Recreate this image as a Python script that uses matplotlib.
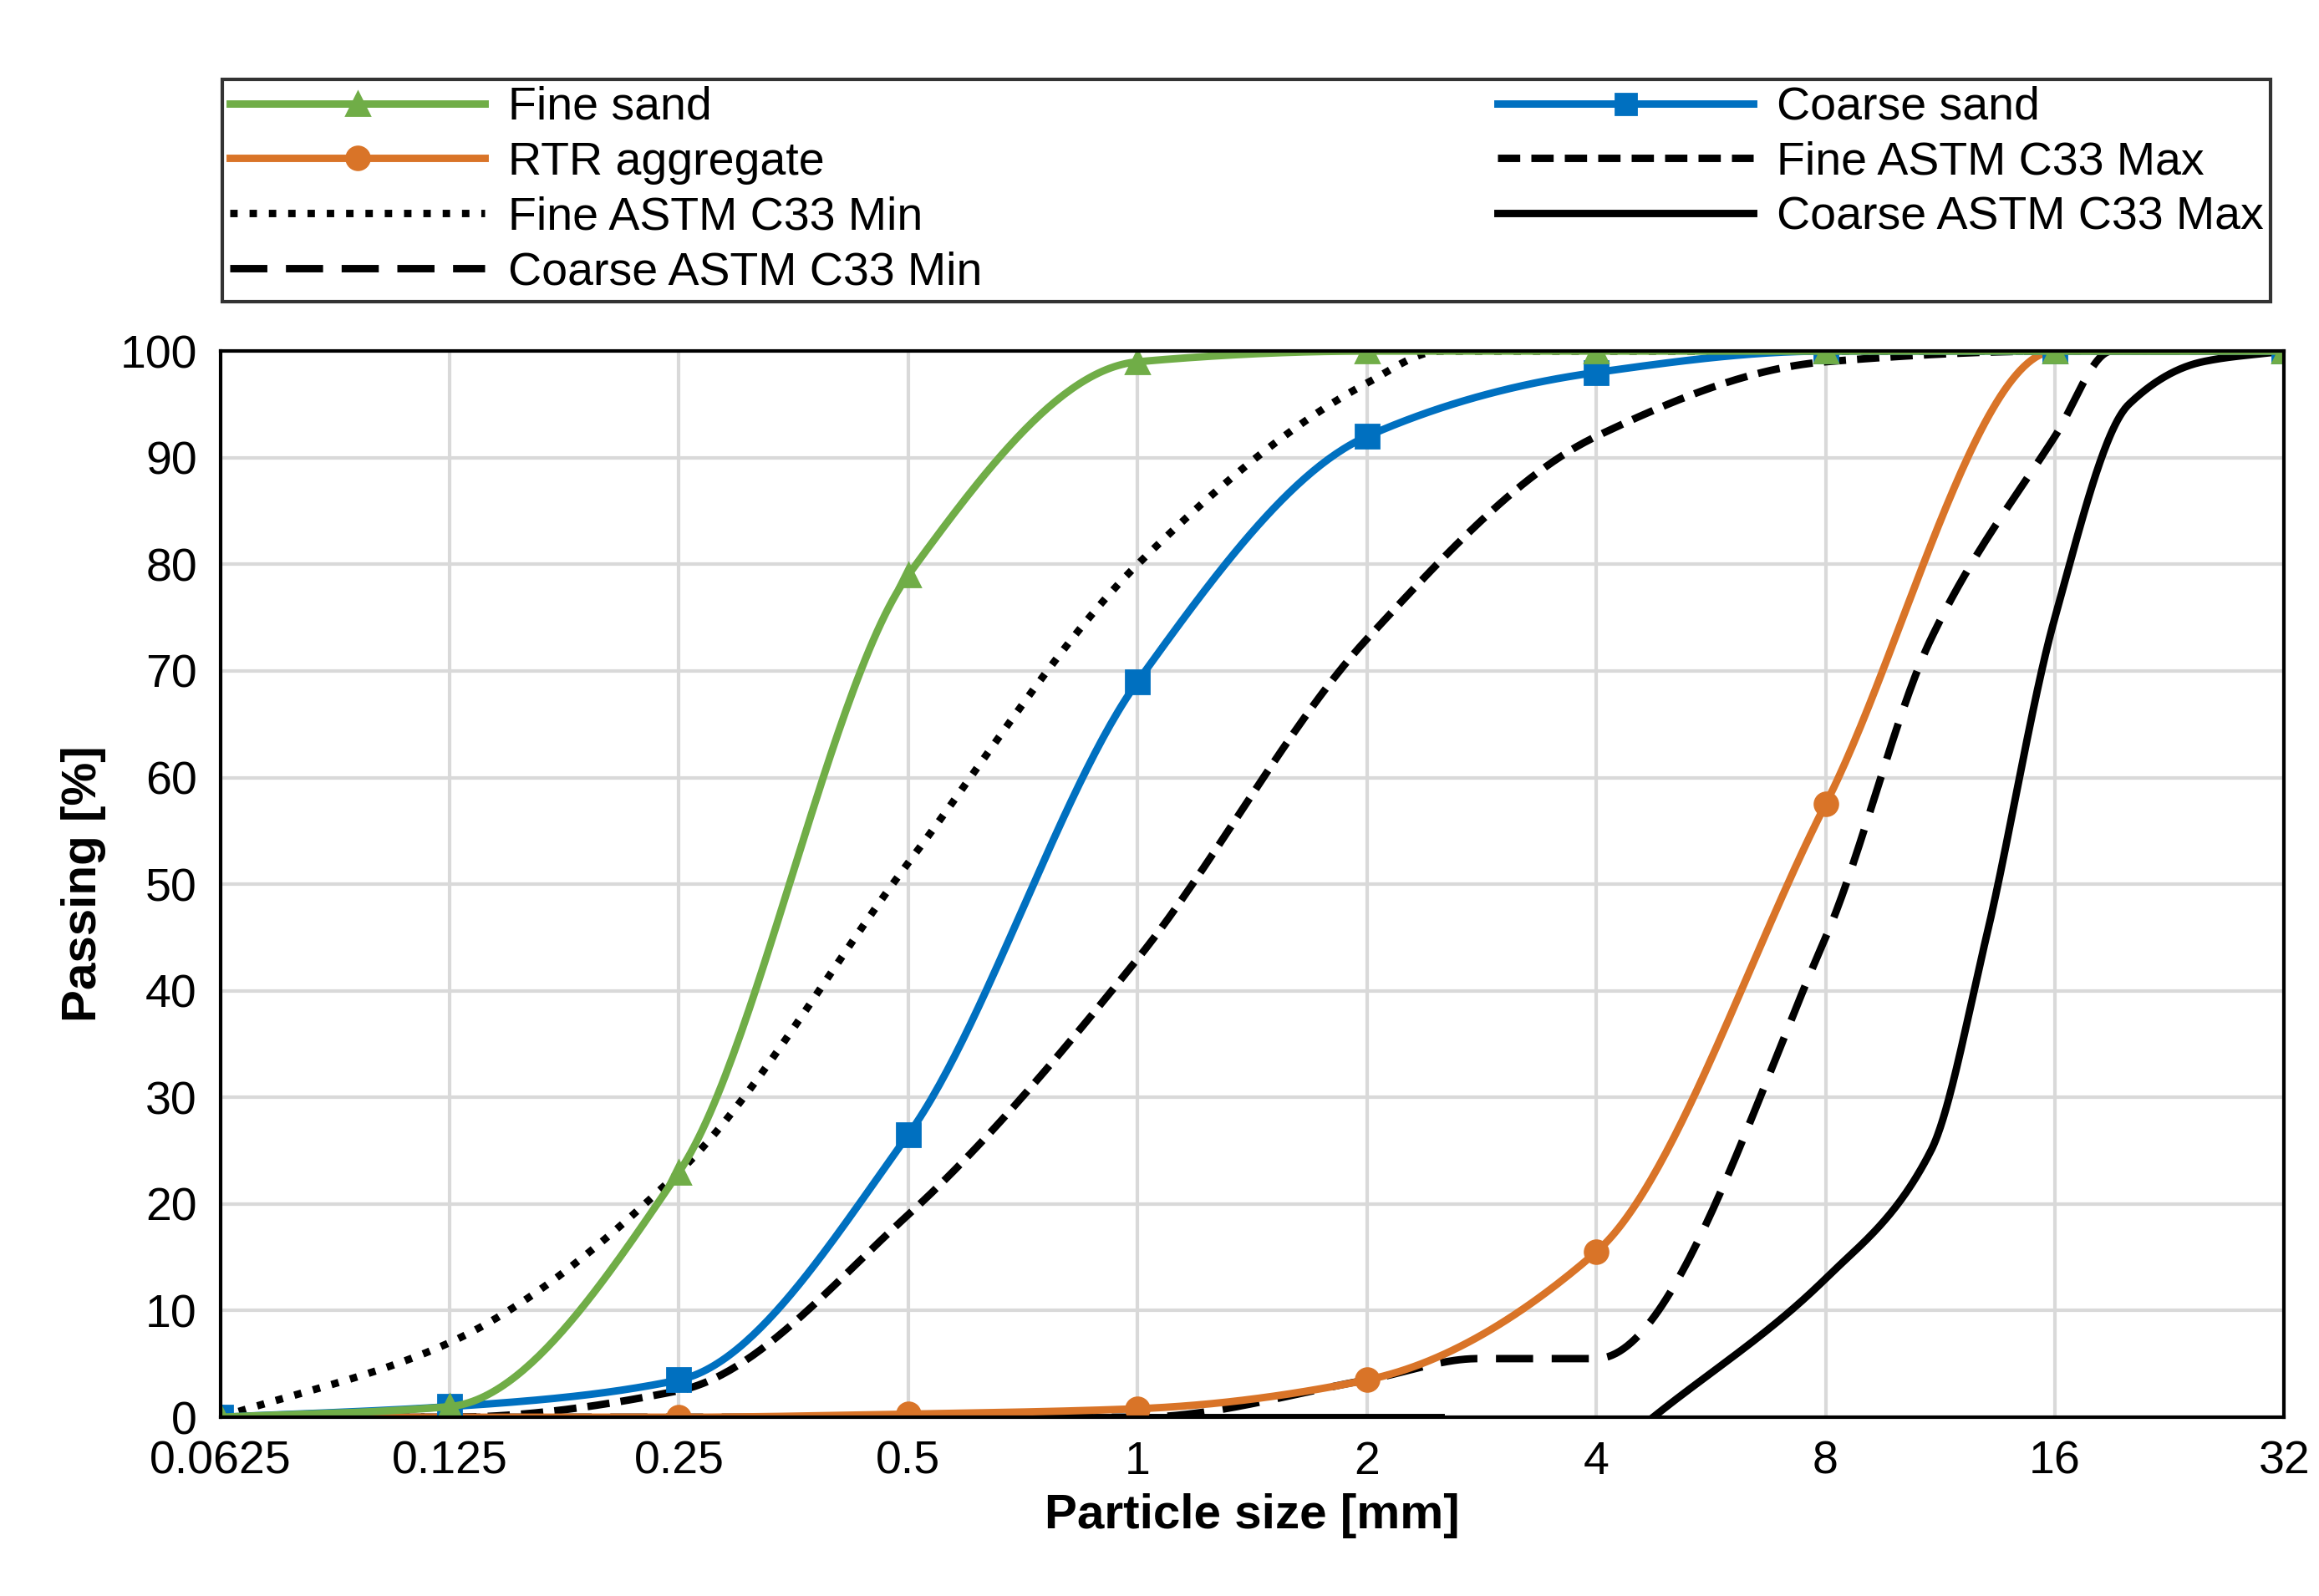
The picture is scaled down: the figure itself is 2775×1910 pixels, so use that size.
import numpy as np
import matplotlib
matplotlib.use('Agg')
import matplotlib.pyplot as plt
from matplotlib.lines import Line2D

plt.rcParams['font.family'] = ['Liberation Sans', 'DejaVu Sans']

# ── Data ──────────────────────────────────────────────────────────────────────
sieves = [0.0625, 0.125, 0.25, 0.5, 1, 2, 4, 8, 16, 32]
fine_sand   = [0, 1, 23, 79, 99, 100, 100, 100, 100, 100]
coarse_sand = [0, 1, 3.5, 26.5, 69, 92, 98, 100, 100, 100]
rtr_agg     = [0, 0, 0, 0.3, 0.8, 3.5, 15.5, 57.5, 100, 100]

fine_min_x = [0.0625, 0.125, 0.25, 0.5, 1, 2, 2.5, 4, 8, 16, 32]
fine_min_y = [0, 7, 23, 52, 80, 97, 100, 100, 100, 100, 100]
fine_max_x = [0.0625, 0.125, 0.25, 0.5, 1, 2, 4, 8, 16, 32]
fine_max_y = [0, 0, 2.5, 19, 43, 73, 92, 99, 100, 100]
coarse_min_x = [0.0625, 1, 2, 2.8, 4, 8, 11, 16, 19, 32]
coarse_min_y = [0, 0, 3.5, 5.5, 5.5, 45, 73, 92, 100, 100]
coarse_max_x = [4.75, 8, 11, 13, 16, 20, 25, 32]
coarse_max_y = [0, 13, 25, 45, 75, 95, 99, 100]
coarse_max0_x = [0.0625, 2.5]
coarse_max0_y = [0, 0]

ticks = [0.0625, 0.125, 0.25, 0.5, 1, 2, 4, 8, 16, 32]
tick_labels = ['0.0625', '0.125', '0.25', '0.5', '1', '2', '4', '8', '16', '32']

GREEN = '#70ad47'
BLUE = '#0070c0'
ORANGE = '#d97428'


def smooth(x, y, n=60):
    """Monotone cubic (Fritsch-Carlson) through points, in log2(x)."""
    lx = np.log2(np.asarray(x, float))
    y = np.asarray(y, float)
    h = np.diff(lx)
    d = np.diff(y) / h
    m = np.zeros_like(y)
    m[0], m[-1] = d[0], d[-1]
    for i in range(1, len(y) - 1):
        if d[i - 1] * d[i] <= 0:
            m[i] = 0
        else:
            w1 = 2 * h[i] + h[i - 1]
            w2 = h[i] + 2 * h[i - 1]
            m[i] = (w1 + w2) / (w1 / d[i - 1] + w2 / d[i])
    xs, ys = [], []
    for i in range(len(h)):
        t = np.linspace(0, 1, n)
        h00 = 2 * t**3 - 3 * t**2 + 1
        h10 = t**3 - 2 * t**2 + t
        h01 = -2 * t**3 + 3 * t**2
        h11 = t**3 - t**2
        yy = h00 * y[i] + h10 * h[i] * m[i] + h01 * y[i + 1] + h11 * h[i] * m[i + 1]
        xs.append(2 ** (lx[i] + t * h[i]))
        ys.append(yy)
    return np.concatenate(xs), np.concatenate(ys)


fig = plt.figure(figsize=(13.875, 9.55), dpi=200)
ax = fig.add_axes([0.095, 0.112, 0.89, 0.668])

lw = 3.2
ax.plot(*smooth(coarse_max0_x, coarse_max0_y), color='black', lw=lw)
ax.plot(*smooth(coarse_max_x, coarse_max_y), color='black', lw=lw)
ax.plot(*smooth(coarse_min_x, coarse_min_y), color='black', lw=lw, dashes=(5, 2.5))
ax.plot(*smooth(fine_max_x, fine_max_y), color='black', lw=lw, dashes=(3, 1.5))
ax.plot(*smooth(fine_min_x, fine_min_y), color='black', lw=lw, dashes=(1, 1.6))

for yv, c, mk in [(rtr_agg, ORANGE, 'o'), (coarse_sand, BLUE, 's'), (fine_sand, GREEN, '^')]:
    ax.plot(*smooth(sieves, yv), color=c, lw=lw)
    ax.plot(sieves, yv, ls='none', marker=mk, color=c, ms=10)

ax.set_xscale('log', base=2)
ax.set_xlim(0.0625, 32)
ax.set_ylim(0, 100)
ax.set_xticks(ticks)
ax.set_xticklabels(tick_labels)
ax.minorticks_off()
ax.set_yticks(range(0, 101, 10))
ax.tick_params(labelsize=20, length=0, pad=10)
ax.grid(True, color='#d9d9d9', lw=1.5)
ax.set_axisbelow(True)
for s in ax.spines.values():
    s.set_color('black')
    s.set_linewidth(1.5)
ax.set_xlabel('Particle size [mm]', fontsize=21, fontweight='bold', labelpad=4)
ax.set_ylabel('Passing [%]', fontsize=21, fontweight='bold', labelpad=6)

# ── Legend box ────────────────────────────────────────────────────────────────
handles = [
    Line2D([], [], color=GREEN, lw=lw, marker='^', ms=10),
    Line2D([], [], color=ORANGE, lw=lw, marker='o', ms=10),
    Line2D([], [], color='black', lw=lw, dashes=(1, 1.6)),
    Line2D([], [], color='black', lw=lw, dashes=(5, 2.5)),
    Line2D([], [], color=BLUE, lw=lw, marker='s', ms=9),
    Line2D([], [], color='black', lw=lw, dashes=(3, 1.5)),
    Line2D([], [], color='black', lw=lw),
]
labels = ['Fine sand', 'RTR aggregate', 'Fine ASTM C33 Min', 'Coarse ASTM C33 Min',
          'Coarse sand', 'Fine ASTM C33 Max', 'Coarse ASTM C33 Max']
leg = fig.legend(handles, labels, ncol=2, loc='lower left',
                 bbox_to_anchor=(0.096, 0.811, 0.883, 0.176), mode='expand',
                 fontsize=20, frameon=True, fancybox=False, edgecolor='black',
                 handlelength=5.5, columnspacing=6, labelspacing=0.25,
                 borderpad=0.15, borderaxespad=0, handletextpad=0.5)
leg.get_frame().set_linewidth(1.5)

fig.savefig('out.png', dpi=200, facecolor='white')
